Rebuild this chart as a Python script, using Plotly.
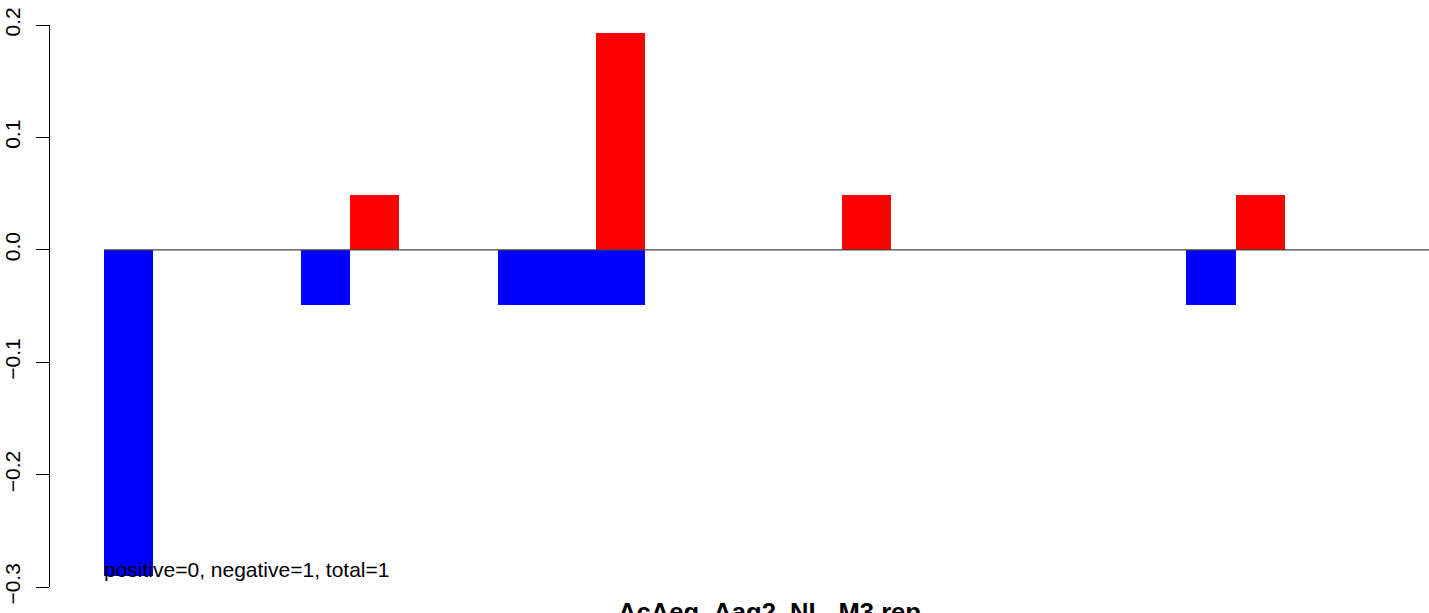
import plotly.graph_objects as go

# Data (27 bar slots, unit width, space=0)
n_slots = 27
neg_values = [-0.29, 0, 0, 0, -0.0488, 0, 0, 0, -0.0488, -0.0488, -0.0488, 0, 0, 0, 0,
              0, 0, 0, 0, 0, 0, 0, -0.0488, 0, 0, 0, 0]
pos_values = [0, 0, 0, 0, 0, 0.0488, 0, 0, 0, 0, 0.193, 0, 0, 0, 0,
              0.0488, 0, 0, 0, 0, 0, 0, 0, 0.0488, 0, 0, 0]
y_ticks = [-0.3, -0.2, -0.1, 0.0, 0.1, 0.2]
y_tick_labels = ["\u22120.3", "\u22120.2", "\u22120.1", "0.0", "0.1", "0.2"]
title_text = "AcAeg_Aag2_NL_M3 rep"
note_text = "positive=0, negative=1, total=1"

x = [i + 0.5 for i in range(n_slots)]
FONT = "Liberation Sans, Arial, Helvetica, sans-serif"

fig = go.Figure()
fig.add_trace(go.Bar(x=x, y=neg_values, width=1.0, marker=dict(color="#0000FF", line=dict(width=0)),
                     showlegend=False, hoverinfo="skip"))
fig.add_trace(go.Bar(x=x, y=pos_values, width=1.0, marker=dict(color="#FF0000", line=dict(width=0)),
                     showlegend=False, hoverinfo="skip"))

fig.add_shape(type="line", x0=0, x1=n_slots, y0=0, y1=0, xref="x", yref="y",
              line=dict(color="#444444", width=1.2))

fig.add_annotation(x=0, y=-0.29, xref="x", yref="y", text=note_text, showarrow=False,
                   xanchor="left", yanchor="middle", yshift=6, xshift=-2,
                   font=dict(family=FONT, size=21, color="black"))

fig.add_annotation(x=0.5218, y=-0.016, xref="paper", yref="paper", text="<b>" + title_text + "</b>",
                   showarrow=False, xanchor="center", yanchor="top",
                   font=dict(family=FONT, size=25.6, color="black"))

fig.update_layout(
    width=1429, height=613,
    margin=dict(l=50, r=0, t=25, b=26),
    paper_bgcolor="white", plot_bgcolor="white",
    barmode="overlay", bargap=0,
    xaxis=dict(range=[-1.1, 26.93], visible=False, showgrid=False, zeroline=False),
    yaxis=dict(range=[-0.3, 0.2], tickvals=y_ticks, ticktext=y_tick_labels,
               ticks="outside", ticklen=13, tickwidth=1.3, tickcolor="black",
               showline=True, linecolor="black", linewidth=1.3,
               showgrid=False, zeroline=False, tickangle=-90, ticklabelstandoff=7,
               tickfont=dict(family=FONT, size=21, color="black")),
    font=dict(family=FONT, color="black"),
)

fig.write_html("out.html", config={"displayModeBar": False},
               post_script="document.body.style.margin='0';document.body.style.overflow='hidden';")
